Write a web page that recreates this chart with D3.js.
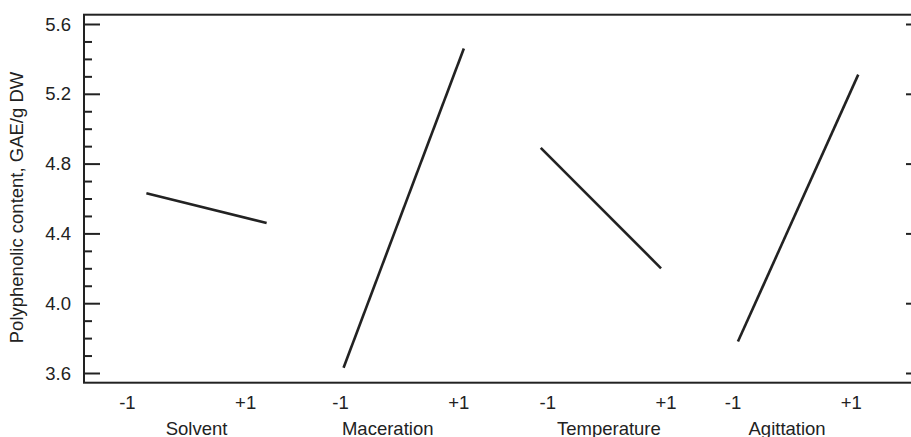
<!DOCTYPE html>
<html>
<head>
<meta charset="utf-8">
<script src="https://cdn.jsdelivr.net/npm/d3@7"></script>
<style>
  html, body { margin: 0; padding: 0; background: #fff; }
  svg { display: block; }
  text { font-family: "Liberation Sans", Arial, sans-serif; fill: #222; }
</style>
</head>
<body>
<svg id="chart" width="911" height="437"></svg>
<script>
// ---- data ----
const factors = ["Solvent", "Maceration", "Temperature", "Agittation"];
const levels = [-1, 1];
const levelLabels = ["-1", "+1"];
const lowValues = [4.63, 3.63, 4.89, 3.78];   // response at coded level -1
const highValues = [4.46, 5.46, 4.20, 5.31];  // response at coded level +1
const yMajorTicks = [3.6, 4.0, 4.4, 4.8, 5.2, 5.6];
const yTitle = "Polyphenolic content, GAE/g DW";

// ---- layout ----
const frame = { left: 84, right: 912, top: 14.7, bottom: 382.7 };
const ink = "#222";
const fs = 18.5;

const svg = d3.select("#chart");

const y = d3.scaleLinear().domain([3.6, 5.6]).range([373, 24]);
// continuous x axis: factor i occupies [i, i+1]; coded level l sits at i + 0.5 + l*halfWidth
const x = d3.scaleLinear().domain([0, factors.length]).range([107.9, 896.7]);
const halfWidth = 0.305;
const xOf = (i, l) => x(i + 0.5 + l * halfWidth);

// frame
svg.append("rect")
  .attr("x", frame.left).attr("y", frame.top)
  .attr("width", frame.right - frame.left).attr("height", frame.bottom - frame.top)
  .attr("fill", "none").attr("stroke", ink).attr("stroke-width", 2);

// left axis: major + minor ticks pointing inward
const minorTicks = d3.range(36, 57).map(v => v / 10).filter(v => !yMajorTicks.some(m => Math.abs(m - v) < 1e-9));
const leftAxis = svg.append("g").attr("transform", `translate(${frame.left},0)`);
leftAxis.call(d3.axisLeft(y).tickValues(yMajorTicks).tickSize(-16).tickFormat(""));
leftAxis.select(".domain").remove();
leftAxis.selectAll(".tick line").attr("stroke", ink).attr("stroke-width", 2);

const leftMinor = svg.append("g").attr("transform", `translate(${frame.left},0)`);
leftMinor.call(d3.axisLeft(y).tickValues(minorTicks).tickSize(-8).tickFormat(""));
leftMinor.select(".domain").remove();
leftMinor.selectAll(".tick line").attr("stroke", ink).attr("stroke-width", 2);

// y tick labels
svg.append("g").selectAll("text")
  .data(yMajorTicks)
  .join("text")
  .attr("x", frame.left - 13)
  .attr("y", d => y(d))
  .attr("dy", "0.36em")
  .attr("text-anchor", "end")
  .attr("font-size", fs)
  .text(d3.format(".1f"));

// right axis: major ticks pointing inward
const rightAxis = svg.append("g").attr("transform", `translate(${frame.right},0)`);
rightAxis.call(d3.axisRight(y).tickValues(yMajorTicks).tickSize(-6).tickFormat(""));
rightAxis.select(".domain").remove();
rightAxis.selectAll(".tick line").attr("stroke", ink).attr("stroke-width", 2);

// y title
svg.append("text")
  .attr("transform", `translate(23.3,207.5) rotate(-90)`)
  .attr("text-anchor", "middle")
  .attr("font-size", fs)
  .text(yTitle);

// level labels and factor names (nudges reproduce original hand placement)
const levelLabelNudge = [-19, -3, 7, -5];
const nameNudge = [-10, -16, 8, -11];
factors.forEach((f, i) => {
  levels.forEach((l, j) => {
    svg.append("text")
      .attr("x", xOf(i, l) + levelLabelNudge[i] + (l > 0 ? -2 : 0))
      .attr("y", 409)
      .attr("text-anchor", "middle")
      .attr("font-size", fs)
      .text(levelLabels[j]);
  });
  svg.append("text")
    .attr("x", x(i + 0.5) + nameNudge[i])
    .attr("y", 434.5)
    .attr("text-anchor", "middle")
    .attr("font-size", fs)
    .text(f);
});

// effect lines
const line = d3.line().x(d => d.x).y(d => y(d.v));
factors.forEach((f, i) => {
  const pts = [
    { x: xOf(i, -1), v: lowValues[i] },
    { x: xOf(i, 1), v: highValues[i] }
  ];
  svg.append("path")
    .datum(pts)
    .attr("d", line)
    .attr("fill", "none")
    .attr("stroke", ink)
    .attr("stroke-width", 2.6)
    .attr("stroke-linecap", "butt");
});
</script>
</body>
</html>
